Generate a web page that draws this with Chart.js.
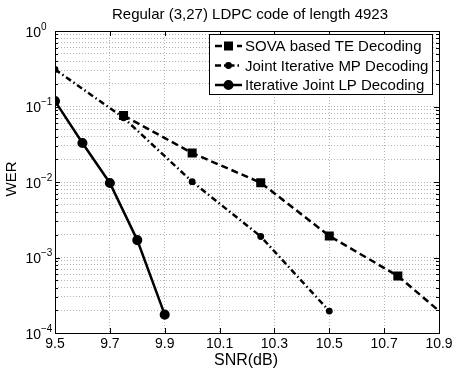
<!DOCTYPE html>
<html>
<head>
<meta charset="utf-8">
<script src="https://cdn.jsdelivr.net/npm/chart.js@4.4.1/dist/chart.umd.min.js"></script>
<style>
    html, body { margin: 0; padding: 0; background: #fff; }
    #wrap { width: 457px; height: 371px; }
</style>
</head>
<body>
<div id="wrap"><canvas id="werChart" width="457" height="371"></canvas></div>
<script>
// values
const snrSova = [9.75, 10.0, 10.25, 10.5, 10.75, 10.9];
const werSova = [0.076, 0.0242, 0.0098, 0.00193, 0.00057, 0.000196];
const snrMp = [9.5, 9.75, 10.0, 10.25, 10.5];
const werMp = [0.31, 0.071, 0.0101, 0.0019, 0.000195];
const snrLp = [9.5, 9.6, 9.7, 9.8, 9.9];
const werLp = [0.118, 0.0328, 0.0097, 0.0017, 0.000175];

const xTicks = [9.5, 9.7, 9.9, 10.1, 10.3, 10.5, 10.7, 10.9];
const yExponents = [0, -1, -2, -3, -4];
const labels = ['SOVA based TE Decoding', 'Joint Iterative MP Decoding', 'Iterative Joint LP Decoding'];
const titleText = 'Regular (3,27) LDPC code of length 4923';

const FONT = '"Liberation Sans", Arial, Helvetica, sans-serif';

function toPoints(xs, ys) {
    return xs.map((x, i) => ({ x: x, y: ys[i] }));
}

// all 1..9 x 10^n ticks so the dotted grid has the minor lines too
function logTicks() {
    const out = [];
    for (let e = -4; e < 0; e++) {
        for (let m = 1; m <= 9; m++) {
            out.push({ value: m * Math.pow(10, e) });
        }
    }
    out.push({ value: 1 });
    return out;
}

const decor = {
    id: 'decor',
    afterDraw(chart) {
        const ctx = chart.ctx;
        const a = chart.chartArea;
        const xs = chart.scales.x;
        const ys = chart.scales.y;
        ctx.save();

        // frame + inward ticks
        ctx.strokeStyle = '#000';
        ctx.lineWidth = 1;
        ctx.setLineDash([]);
        ctx.strokeRect(a.left + 0.5, a.top + 0.5, a.right - a.left, a.bottom - a.top);
        ctx.beginPath();
        xTicks.forEach(v => {
            const px = Math.round(xs.getPixelForValue(v)) + 0.5;
            ctx.moveTo(px, a.bottom); ctx.lineTo(px, a.bottom - 5);
            ctx.moveTo(px, a.top); ctx.lineTo(px, a.top + 5);
        });
        logTicks().forEach(t => {
            const py = Math.round(ys.getPixelForValue(t.value)) + 0.5;
            const major = Math.abs(Math.log10(t.value) % 1) < 1e-9;
            const len = major ? 5 : 3;
            ctx.moveTo(a.left, py); ctx.lineTo(a.left + len, py);
            ctx.moveTo(a.right, py); ctx.lineTo(a.right - len, py);
        });
        ctx.stroke();

        // y tick labels 10^n
        ctx.fillStyle = '#000';
        yExponents.forEach(e => {
            const py = ys.getPixelForValue(Math.pow(10, e));
            ctx.font = '14px ' + FONT;
            ctx.textAlign = 'right';
            ctx.textBaseline = 'middle';
            ctx.fillText('10', 41, py + 2);
            ctx.font = '10px ' + FONT;
            ctx.textAlign = 'left';
            ctx.fillText(e === 0 ? '0' : '\u2212' + Math.abs(e), 41, py - 4);
        });

        // titles
        ctx.font = '15px ' + FONT;
        ctx.textAlign = 'center';
        ctx.textBaseline = 'middle';
        ctx.fillText(titleText, 250, 15);
        ctx.font = '16px ' + FONT;
        ctx.fillText('SNR(dB)', 246, 361);
        ctx.font = '15px ' + FONT;
        ctx.save();
        ctx.translate(12, 179);
        ctx.rotate(-Math.PI / 2);
        ctx.fillText('WER', 0, 0);
        ctx.restore();

        // legend box
        const bx = 209, by = 34, bw = 223, bh = 60;
        ctx.fillStyle = '#fff';
        ctx.fillRect(bx, by, bw, bh);
        ctx.strokeStyle = '#000';
        ctx.lineWidth = 1;
        ctx.strokeRect(bx + 0.5, by + 0.5, bw, bh);
        chart.data.datasets.forEach((ds, i) => {
            const cy = 46 + i * 19.5;
            ctx.strokeStyle = ds.borderColor;
            ctx.lineWidth = ds.borderWidth;
            ctx.setLineDash(ds.borderDash || []);
            ctx.beginPath();
            ctx.moveTo(215, cy);
            ctx.lineTo(242, cy);
            ctx.stroke();
            ctx.setLineDash([]);
            Chart.helpers.drawPoint(ctx, {
                pointStyle: ds.pointStyle,
                radius: ds.legendRadius,
                rotation: 0,
                borderWidth: 1
            }, 228.5, cy);
            ctx.fillStyle = '#000';
            ctx.fill();
            ctx.font = '15px ' + FONT;
            ctx.textAlign = 'left';
            ctx.textBaseline = 'middle';
            ctx.fillText(ds.label, 245, cy + 1);
        });
        ctx.restore();
    }
};

const ctx = document.getElementById('werChart').getContext('2d');
const werChart = new Chart(ctx, {
    type: 'line',
    data: {
        datasets: [{
            label: labels[0],
            data: toPoints(snrSova, werSova),
            borderColor: '#000',
            backgroundColor: '#000',
            borderWidth: 2.5,
            borderDash: [7, 4],
            pointStyle: 'rect',
            pointRadius: [4.6, 4.6, 4.6, 4.6, 4.6, 0],
            legendRadius: 4.6,
            fill: false
        }, {
            label: labels[1],
            data: toPoints(snrMp, werMp),
            borderColor: '#000',
            backgroundColor: '#000',
            borderWidth: 2.5,
            borderDash: [6, 3, 1.5, 3],
            pointStyle: 'circle',
            pointRadius: 2.2,
            legendRadius: 2.2,
            fill: false
        }, {
            label: labels[2],
            data: toPoints(snrLp, werLp),
            borderColor: '#000',
            backgroundColor: '#000',
            borderWidth: 2.5,
            pointStyle: 'circle',
            pointRadius: 3.8,
            legendRadius: 3.8,
            fill: false
        }]
    },
    options: {
        responsive: false,
        animation: false,
        layout: { padding: { left: 0, top: 31, right: 18, bottom: 0 } },
        plugins: {
            legend: { display: false },
            title: { display: false },
            tooltip: { enabled: false }
        },
        elements: { line: { tension: 0 }, point: { borderWidth: 0 } },
        scales: {
            x: {
                type: 'linear',
                min: 9.5,
                max: 10.9,
                afterBuildTicks: s => { s.ticks = xTicks.map(v => ({ value: v })); },
                afterFit: s => { s.height = 38; },
                ticks: {
                    autoSkip: false,
                    maxRotation: 0,
                    padding: 3,
                    color: '#000',
                    font: { family: FONT, size: 14 },
                    callback: v => Number(v).toFixed(1)
                },
                grid: { color: '#b4b4b4', lineWidth: 1, drawTicks: false },
                border: { display: false, dash: [1, 2] }
            },
            y: {
                type: 'logarithmic',
                min: 1e-4,
                max: 1,
                afterBuildTicks: s => { s.ticks = logTicks(); },
                afterFit: s => { s.width = 55; },
                ticks: { autoSkip: false, callback: () => '' },
                grid: { color: '#b4b4b4', lineWidth: 1, drawTicks: false },
                border: { display: false, dash: [1, 2] }
            }
        }
    },
    plugins: [decor]
});
</script>
</body>
</html>
